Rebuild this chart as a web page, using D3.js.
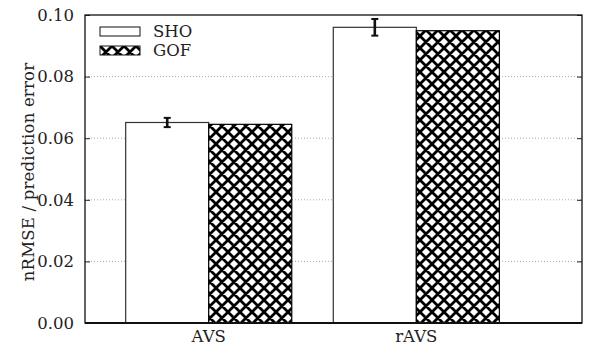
<!DOCTYPE html>
<html lang="en">
<head>
  <meta charset="UTF-8">
  <title>nRMSE bars</title>
  <script src="https://d3js.org/d3.v7.min.js"></script>
  <style>
    body { margin: 0; background: #fff; }
    svg { display: block; }
    text { font-family: "DejaVu Serif", "DejaVu Sans", serif; fill: #222; }
  </style>
</head>
<body>
<svg id="chart"></svg>
<script>
  // data
  const categories = ["AVS", "rAVS"];
  const seriesNames = ["SHO", "GOF"];
  const shoValues = [0.0651, 0.0960];
  const shoErrors = [0.0015, 0.0027];
  const gofValues = [0.0645, 0.0949];
  const yTicks = [0, 0.02, 0.04, 0.06, 0.08, 0.10];

  const width = 590, height = 350;
  const margin = {top: 15, right: 8, bottom: 27, left: 85};
  const fontSize = "16.5px";
  const fontFam = "'DejaVu Serif', 'DejaVu Sans', serif";

  const svg = d3.select("#chart")
    .attr("width", width)
    .attr("height", height);

  // hatch pattern for GOF
  const defs = svg.append("defs");
  const pat = defs.append("pattern")
    .attr("id", "cross")
    .attr("patternUnits", "userSpaceOnUse")
    .attr("width", 12)
    .attr("height", 12);
  pat.append("rect").attr("width", 12).attr("height", 12).attr("fill", "#fff");
  pat.append("path")
    .attr("d", "M-3,-3L15,15M-3,15L15,-3M-3,9L3,15M9,-3L15,3M-3,3L3,-3M9,15L15,9")
    .attr("stroke", "#000")
    .attr("stroke-width", 2.8);

  // x in "group units", gnuplot-style histogram
  const x = d3.scaleLinear()
    .domain([-0.596, 1.798])
    .range([margin.left, width - margin.right]);
  const boxW = 0.4;

  const y = d3.scaleLinear()
    .domain([0, 0.10])
    .range([height - margin.bottom, margin.top]);

  // grid
  svg.append("g")
    .selectAll("line")
    .data(yTicks.filter(d => d > 0 && d < 0.1))
    .join("line")
    .attr("x1", x.range()[0])
    .attr("x2", x.range()[1])
    .attr("y1", d => y(d))
    .attr("y2", d => y(d))
    .attr("stroke", "#aaa")
    .attr("stroke-width", 1)
    .attr("stroke-dasharray", "1,2");

  // SHO bars
  svg.append("g")
    .selectAll("rect")
    .data(shoValues)
    .join("rect")
    .attr("x", (d, i) => x(i - boxW))
    .attr("y", d => y(d))
    .attr("width", x(boxW) - x(0))
    .attr("height", d => y(0) - y(d))
    .attr("fill", "#fff")
    .attr("stroke", "#333")
    .attr("stroke-width", 1.2);

  // GOF bars
  svg.append("g")
    .selectAll("rect")
    .data(gofValues)
    .join("rect")
    .attr("x", (d, i) => x(i))
    .attr("y", d => y(d))
    .attr("width", x(boxW) - x(0))
    .attr("height", d => y(0) - y(d))
    .attr("fill", "url(#cross)")
    .attr("stroke", "#000")
    .attr("stroke-width", 1.2);

  // error bars on SHO
  const err = svg.append("g")
    .selectAll("g")
    .data(shoValues.map((v, i) => ({v, e: shoErrors[i], i})))
    .join("g")
    .attr("stroke", "#111");
  err.append("line")
    .attr("x1", d => x(d.i - boxW / 2)).attr("x2", d => x(d.i - boxW / 2))
    .attr("y1", d => y(d.v + d.e)).attr("y2", d => y(d.v - d.e))
    .attr("stroke-width", 2.6);
  err.append("line")
    .attr("x1", d => x(d.i - boxW / 2) - 3.5).attr("x2", d => x(d.i - boxW / 2) + 3.5)
    .attr("y1", d => y(d.v + d.e)).attr("y2", d => y(d.v + d.e))
    .attr("stroke-width", 2);
  err.append("line")
    .attr("x1", d => x(d.i - boxW / 2) - 3.5).attr("x2", d => x(d.i - boxW / 2) + 3.5)
    .attr("y1", d => y(d.v - d.e)).attr("y2", d => y(d.v - d.e))
    .attr("stroke-width", 2);

  // y axis, ticks inside, mirrored on the right
  const yAxis = svg.append("g")
    .attr("transform", `translate(${margin.left},0)`)
    .call(d3.axisLeft(y).tickValues(yTicks).tickFormat(d3.format(".2f")).tickSizeInner(-5).tickSizeOuter(0).tickPadding(11));
  yAxis.select(".domain").remove();
  yAxis.selectAll("line").attr("stroke", "#222");
  yAxis.selectAll("text")
    .style("font-size", fontSize)
    .style("font-family", fontFam)
    .attr("fill", "#222");

  const yRight = svg.append("g")
    .attr("transform", `translate(${width - margin.right},0)`)
    .call(d3.axisRight(y).tickValues(yTicks).tickFormat("").tickSizeInner(-5).tickSizeOuter(0));
  yRight.select(".domain").remove();
  yRight.selectAll("line").attr("stroke", "#222");

  // x labels
  svg.append("g")
    .selectAll("text")
    .data(categories)
    .join("text")
    .attr("x", (d, i) => x(i))
    .attr("y", 342)
    .attr("text-anchor", "middle")
    .style("font-size", fontSize)
    .text(d => d);

  // frame
  svg.append("rect")
    .attr("x", x.range()[0])
    .attr("y", y.range()[1])
    .attr("width", x.range()[1] - x.range()[0])
    .attr("height", y.range()[0] - y.range()[1])
    .attr("fill", "none")
    .attr("stroke", "#111")
    .attr("stroke-width", 1.3);
  svg.append("line")
    .attr("x1", x.range()[0]).attr("x2", x.range()[1])
    .attr("y1", y(0)).attr("y2", y(0))
    .attr("stroke", "#111")
    .attr("stroke-width", 2);

  // y title
  svg.append("text")
    .attr("transform", `translate(34,172) rotate(-90)`)
    .attr("text-anchor", "middle")
    .style("font-size", "16.5px")
    .style("letter-spacing", "0.2px")
    .text("nRMSE / prediction error");

  // legend
  const legend = svg.append("g")
    .selectAll("g")
    .data(seriesNames)
    .join("g")
    .attr("transform", (d, i) => `translate(100,${27 + i * 19})`);
  legend.append("rect")
    .attr("width", 40)
    .attr("height", 9)
    .attr("fill", (d, i) => i === 0 ? "#fff" : "url(#cross)")
    .attr("stroke", "#111")
    .attr("stroke-width", 1);
  legend.append("text")
    .attr("x", 53)
    .attr("y", 9.5)
    .style("font-size", fontSize)
    .text(d => d);
</script>
</body>
</html>
